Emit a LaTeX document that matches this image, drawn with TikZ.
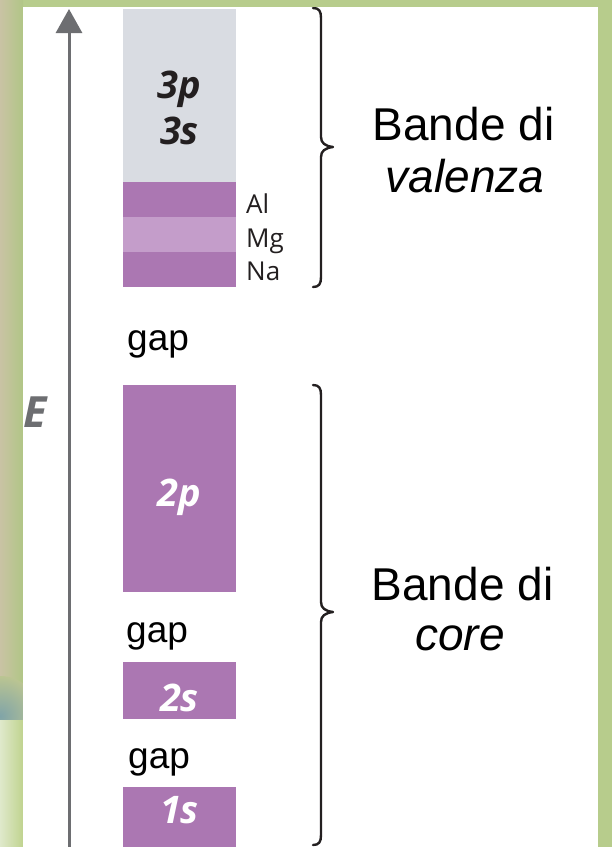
\documentclass[tikz,border=0pt]{standalone}
\usepackage{fontspec}
\setmainfont{Liberation Sans}
\newfontfamily\myr{Open Sans}
\usetikzlibrary{arrows.meta}
\definecolor{bgreen}{HTML}{B7CC8C}
\definecolor{stripTan}{HTML}{C9C3A4}
\definecolor{stripGreen}{HTML}{B1C686}
\definecolor{stripLight}{HTML}{DFE9CB}
\definecolor{stripGreenB}{HTML}{C0D38F}
\definecolor{stripBlue}{HTML}{80A4A8}
\definecolor{pgray}{HTML}{D9DCE2}
\definecolor{purp}{HTML}{AB77B2}
\definecolor{purpL}{HTML}{C49DCA}
\definecolor{axisgray}{HTML}{6D6E71}
\definecolor{ink}{HTML}{231F20}
\tikzset{
  bandbox/.style={draw=none, inner sep=0pt, minimum width=113, rectangle},
  orbtxt/.style={inner sep=0pt, anchor=base, font=\myr\bfseries\itshape\fontsize{38}{38}\selectfont},
  elemtxt/.style={inner sep=0pt, anchor=base west, font=\myr\fontsize{26}{26}\selectfont, text=ink},
  gaptxt/.style={inner sep=0pt, anchor=base west, font=\fontsize{37}{37}\selectfont},
  bigtxt/.style={inner sep=0pt, anchor=base, font=\fontsize{46}{46}\selectfont},
  bracepath/.style={draw=ink, line width=2.4pt, line cap=round, line join=round},
  axisline/.style={draw=axisgray, line width=3pt, -{Triangle[width=26pt,length=24pt]}}
}
\begin{document}
\begin{tikzpicture}[x=1pt,y=-1pt]
\useasboundingbox (0,0) rectangle (612,847);
% background frame
\fill[bgreen] (0,0) rectangle (612,847);
\shade[left color=stripTan, right color=stripGreen] (0,0) rectangle (23,720);
\begin{scope}
  \clip (0,660) rectangle (23,720);
  \shade[inner color=stripBlue, outer color=stripGreen!60!stripTan] (0,716) circle (40);
\end{scope}
\shade[left color=stripLight, right color=stripGreenB] (0,720) rectangle (23,847);
\fill[white] (23,7) rectangle (598,847);

\begin{scope}
\clip (23,7) rectangle (598,847);
% energy axis
\coordinate (abot) at (69,852);
\coordinate (atop) at (69,9);
\draw[axisline] (abot) -- (atop);
\node[inner sep=0pt, anchor=base east, text=axisgray, font=\myr\bfseries\itshape\fontsize{43}{43}\selectfont] (E) at (47,427) {E};

% bands
\node[bandbox, fill=pgray, minimum height=173] (b3) at (179.5,95.5) {};
\node[bandbox, fill=purp,  minimum height=35] (bAl) at (179.5,199.5) {};
\node[bandbox, fill=purpL, minimum height=35] (bMg) at (179.5,234.5) {};
\node[bandbox, fill=purp,  minimum height=35] (bNa) at (179.5,269.5) {};
\node[bandbox, fill=purp,  minimum height=207] (b2p) at (179.5,488.5) {};
\node[bandbox, fill=purp,  minimum height=57] (b2s) at (179.5,690.5) {};
\node[bandbox, fill=purp,  minimum height=66] (b1s) at (179.5,820) {};

% orbital labels
\node[orbtxt, text=ink] (t3p) at (179.5,98) {3p};
\node[orbtxt, text=ink] (t3s) at (179.5,144) {3s};
\node[orbtxt, text=white] (t2p) at (179.5,506) {2p};
\node[orbtxt, text=white] (t2s) at (179.5,711) {2s};
\node[orbtxt, text=white] (t1s) at (179.5,823) {1s};

% element labels
\node[elemtxt] (lAl) at (246,213) {Al};
\node[elemtxt] (lMg) at (246,247) {Mg};
\node[elemtxt] (lNa) at (246,280) {Na};

% gap labels
\node[gaptxt] (g1) at (127,350) {gap};
\node[gaptxt] (g2) at (126,642) {gap};
\node[gaptxt] (g3) at (128,768) {gap};

% braces
\draw[bracepath] (313,8) .. controls (319,8) and (321,11) .. (321,18)
  -- (321,137) .. controls (321,143) and (325,146) .. (333,147)
  .. controls (325,148) and (321,151) .. (321,157)
  -- (321,277) .. controls (321,284) and (319,287) .. (313,287);
\draw[bracepath] (313,385) .. controls (319,385) and (321,388) .. (321,395)
  -- (321,602) .. controls (321,608) and (325,611) .. (333,612)
  .. controls (325,613) and (321,616) .. (321,622)
  -- (321,835) .. controls (321,842) and (319,845) .. (313,845);

% brace labels
\node[bigtxt] (v1) at (463.5,140) {Bande di};
\node[bigtxt] (v2) at (465,192) {\itshape valenza};
\node[bigtxt] (c1) at (462.5,600) {Bande di};
\node[bigtxt] (c2) at (460,650) {\itshape core};
\end{scope}
\end{tikzpicture}
\end{document}
